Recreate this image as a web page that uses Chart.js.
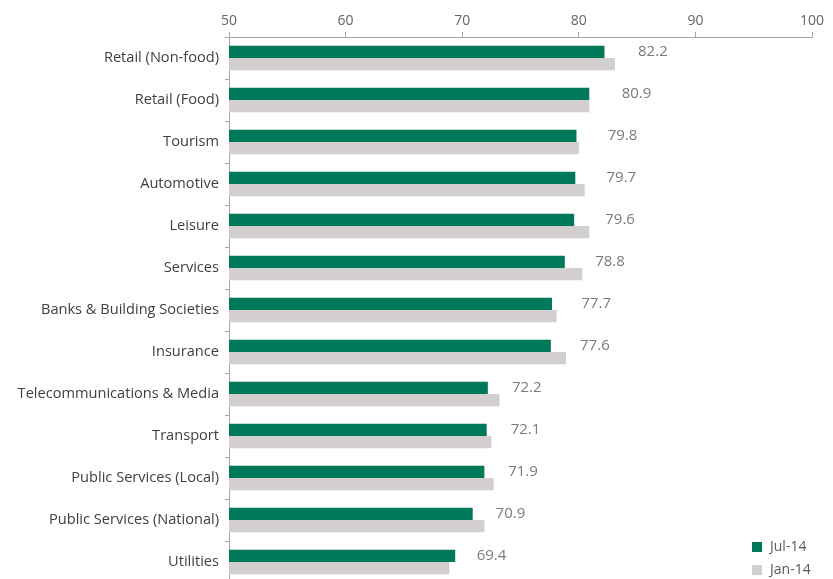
<!DOCTYPE html>
<html>
<head>
<meta charset="utf-8">
<script src="https://cdn.jsdelivr.net/npm/chart.js@4.4.0/dist/chart.umd.min.js"></script>
<style>
  html, body { margin: 0; padding: 0; background: #fff; overflow: hidden; }
  #wrap { position: relative; width: 833px; height: 579px; overflow: hidden; }
  #legend { position: absolute; left: 752px; top: 536px; font: 14px "Open Sans", sans-serif; color: #595959; }
  #legend div { height: 23px; line-height: 20px; }
  #legend span { display: inline-block; width: 10px; height: 10px; margin-right: 8px; vertical-align: -1px; }
</style>
</head>
<body>
<div id="wrap">
  <!-- chart runs a few px past the bottom edge, as in the original -->
  <canvas id="chart" width="833" height="583"></canvas>
  <div id="legend"></div>
</div>
<script>
// Data
const categories = [
  'Retail (Non-food)', 'Retail (Food)', 'Tourism', 'Automotive', 'Leisure',
  'Services', 'Banks & Building Societies', 'Insurance', 'Telecommunications & Media',
  'Transport', 'Public Services (Local)', 'Public Services (National)', 'Utilities'
];
const jul14 = [82.2, 80.9, 79.8, 79.7, 79.6, 78.8, 77.7, 77.6, 72.2, 72.1, 71.9, 70.9, 69.4];
const jan14 = [83.1, 80.9, 80.0, 80.5, 80.9, 80.3, 78.1, 78.9, 73.2, 72.5, 72.7, 71.9, 68.9];
const seriesNames = ['Jul-14', 'Jan-14'];
const xTicks = [50, 60, 70, 80, 90, 100];

const GREEN = '#00785a';
const GREY = '#d3cfd0';
const FONT = '"Open Sans", sans-serif';

// value labels next to the Jul-14 bars
const valueLabels = {
  id: 'valueLabels',
  afterDatasetsDraw(chart) {
    const ctx = chart.ctx;
    const meta = chart.getDatasetMeta(0);
    const xs = chart.scales.x;
    ctx.save();
    ctx.font = '15px ' + FONT;
    ctx.fillStyle = '#7a7a7a';
    ctx.textBaseline = 'middle';
    ctx.textAlign = 'left';
    meta.data.forEach((bar, i) => {
      const v = jul14[i];
      const off = 22 + (v - 70) * 0.95;
      ctx.fillText(v.toFixed(1), xs.getPixelForValue(v) + off, bar.y);
    });
    ctx.restore();
  }
};

new Chart(document.getElementById('chart'), {
  type: 'bar',
  data: {
    labels: categories,
    datasets: [
      { label: seriesNames[0], data: jul14, backgroundColor: GREEN },
      { label: seriesNames[1], data: jan14, backgroundColor: GREY }
    ]
  },
  options: {
    indexAxis: 'y',
    responsive: false,
    animation: false,
    datasets: { bar: { categoryPercentage: 0.58, barPercentage: 1.0 } },
    layout: { padding: { right: 21, bottom: 0, top: 0, left: 0 } },
    plugins: { legend: { display: false }, tooltip: { enabled: false } },
    scales: {
      x: {
        position: 'top',
        min: 50, max: 100,
        afterBuildTicks: s => { s.ticks = xTicks.map(v => ({ value: v })); },
        afterFit: s => { s.height = 37; s.paddingLeft = 0; },
        grid: { drawOnChartArea: false, tickLength: 5, color: '#a6a6a6' },
        border: { color: '#a6a6a6' },
        ticks: { font: { family: FONT, size: 14 }, color: '#666', padding: 3, maxRotation: 0 }
      },
      y: {
        afterFit: s => { s.width = 229; s.paddingTop = 0; s.paddingBottom = 0; },
        grid: { drawOnChartArea: false, offset: true, tickLength: 4, color: '#a6a6a6' },
        border: { color: '#a6a6a6' },
        ticks: { font: { family: FONT, size: 14.6 }, color: '#404040', padding: 6 }
      }
    }
  },
  plugins: [valueLabels]
});

document.getElementById('legend').innerHTML = seriesNames.map((n, i) =>
  `<div><span style="background:${i === 0 ? GREEN : GREY}"></span>${n}</div>`).join('');
</script>
</body>
</html>
